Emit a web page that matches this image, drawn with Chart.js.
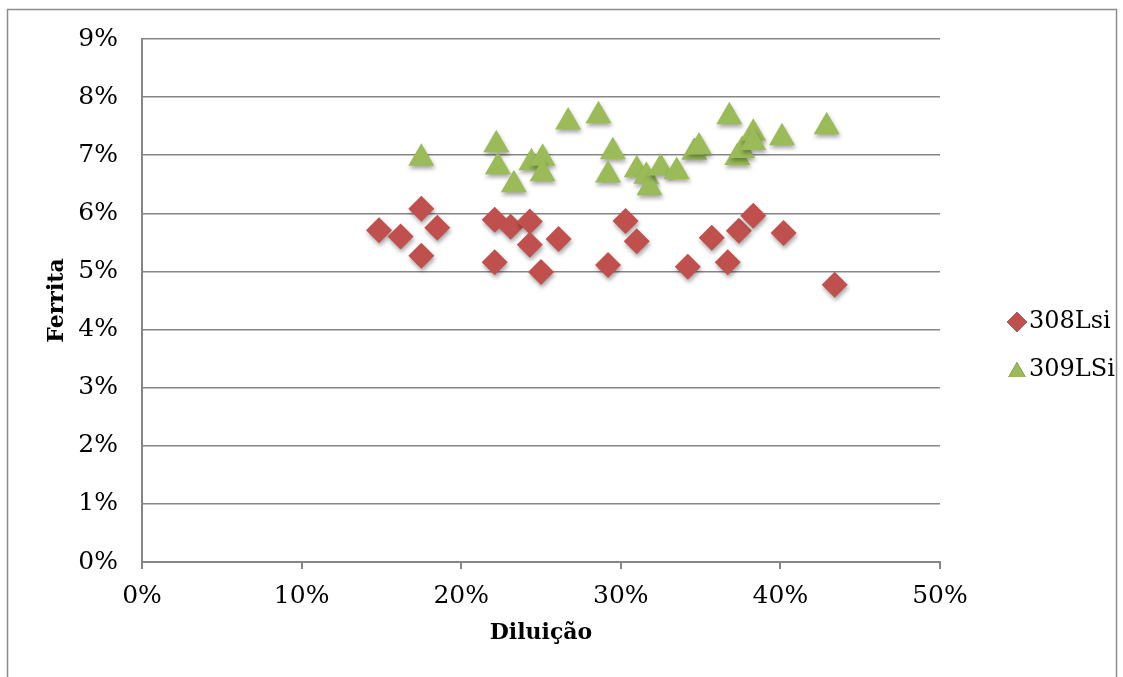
<!DOCTYPE html>
<html>
<head>
<meta charset="utf-8">
<script src="https://cdn.jsdelivr.net/npm/chart.js@4"></script>
<style>
  html, body { margin: 0; padding: 0; background: #fff; }
  #wrap { width: 1123px; height: 677px; }
</style>
</head>
<body>
<div id="wrap"><canvas id="ferritaChart" width="1123" height="677"></canvas></div>
<script>
// Diluição (%) x Ferrita (%)
const dil308 = [14.85, 16.2, 17.5, 17.5, 18.5, 22.1, 22.1, 23.1, 24.3, 24.3, 25.0, 26.1, 29.2, 30.3, 31.0, 34.2, 35.7, 36.7, 37.4, 38.3, 40.2, 43.4];
const fer308 = [5.71, 5.60, 6.08, 5.27, 5.75, 5.89, 5.16, 5.77, 5.86, 5.46, 4.99, 5.56, 5.11, 5.87, 5.52, 5.08, 5.58, 5.16, 5.70, 5.96, 5.66, 4.77];
const dil309 = [17.5, 22.2, 22.3, 23.3, 24.4, 25.1, 25.1, 26.7, 28.6, 29.5, 29.2, 31.0, 31.6, 31.8, 32.5, 33.5, 34.6, 34.9, 36.8, 37.3, 37.6, 38.3, 38.3, 40.1, 42.9];
const fer309 = [6.95, 7.18, 6.80, 6.49, 6.87, 6.95, 6.68, 7.57, 7.68, 7.06, 6.66, 6.75, 6.64, 6.44, 6.78, 6.72, 7.05, 7.14, 7.66, 6.96, 7.08, 7.38, 7.22, 7.30, 7.49];
const seriesNames = ['308Lsi', '309LSi'];
const xTitle = 'Diluição';
const yTitle = 'Ferrita';

const toPoints = (xs, ys) => xs.map((x, i) => ({ x: x, y: ys[i] }));
const FONT = "'DejaVu Serif', serif";
const AXIS = '#868686';

const framePlugin = {
  id: 'frame',
  beforeDraw(chart) {
    const c = chart.ctx;
    c.save();
    c.strokeStyle = '#8c8c8c';
    c.lineWidth = 1.5;
    c.strokeRect(7.5, 9.5, 1109, 700);
    c.restore();
  }
};

const shadowPlugin = {
  id: 'markerShadow',
  beforeDatasetsDraw(chart) {
    const c = chart.ctx;
    c.save();
    c.shadowColor = 'rgba(0,0,0,0.35)';
    c.shadowBlur = 4;
    c.shadowOffsetX = 1;
    c.shadowOffsetY = 3;
  },
  afterDatasetsDraw(chart) {
    chart.ctx.restore();
  }
};

const sideLegend = {
  id: 'sideLegend',
  afterDraw(chart) {
    const c = chart.ctx;
    c.save();
    chart.data.datasets.forEach((ds, i) => {
      const y = 322 + i * 48;
      Chart.helpers.drawPoint(c, {
        pointStyle: ds.pointStyle, radius: 10, borderWidth: 0, rotation: 0
      }, 1017, y + (ds.pointStyle === 'triangle' ? 2 : 0));
      c.fillStyle = ds.backgroundColor;
      c.fill();
      c.fillStyle = '#000';
      c.font = '24px ' + FONT;
      c.textBaseline = 'middle';
      c.fillText(ds.label, 1029, y);
    });
    c.restore();
  }
};

const ctx = document.getElementById('ferritaChart').getContext('2d');
const chart = new Chart(ctx, {
  type: 'scatter',
  data: {
    datasets: [{
      label: seriesNames[0],
      data: toPoints(dil308, fer308),
      pointStyle: 'rectRot',
      pointRadius: 13,
      pointHoverRadius: 13,
      backgroundColor: '#C0504D',
      borderColor: '#C0504D',
      borderWidth: 0
    }, {
      label: seriesNames[1],
      data: toPoints(dil309, fer309),
      pointStyle: 'triangle',
      pointRadius: 15,
      pointHoverRadius: 15,
      backgroundColor: '#9BBB59',
      borderColor: '#9BBB59',
      borderWidth: 0
    }]
  },
  options: {
    responsive: false,
    animation: false,
    layout: { padding: { left: 0, top: 39, right: 183, bottom: 0 } },
    plugins: {
      legend: { display: false },
      tooltip: { enabled: false }
    },
    scales: {
      x: {
        type: 'linear',
        min: 0, max: 50,
        afterFit: s => { s.height = 115; },
        ticks: {
          stepSize: 10,
          padding: 12,
          color: '#000',
          font: { family: FONT, size: 25 },
          callback: v => v + '%'
        },
        grid: { drawOnChartArea: false, drawTicks: true, tickLength: 7, color: AXIS, lineWidth: 2 },
        border: { color: AXIS, width: 2 },
        title: {
          display: true, text: xTitle, color: '#000',
          font: { family: FONT, size: 22, weight: 'bold' },
          padding: { top: 0, bottom: 31 }
        }
      },
      y: {
        min: 0, max: 9,
        afterFit: s => { s.width = 142; },
        ticks: {
          stepSize: 1,
          padding: 24,
          color: '#000',
          font: { family: FONT, size: 25 },
          callback: v => v + '%'
        },
        grid: { drawTicks: false, color: AXIS, lineWidth: 1.5 },
        border: { color: AXIS, width: 2 },
        title: {
          display: true, text: yTitle, color: '#000',
          font: { family: FONT, size: 22, weight: 'bold' },
          padding: { top: 44, bottom: 0 }
        }
      }
    }
  },
  plugins: [framePlugin, shadowPlugin, sideLegend]
});
</script>
</body>
</html>
